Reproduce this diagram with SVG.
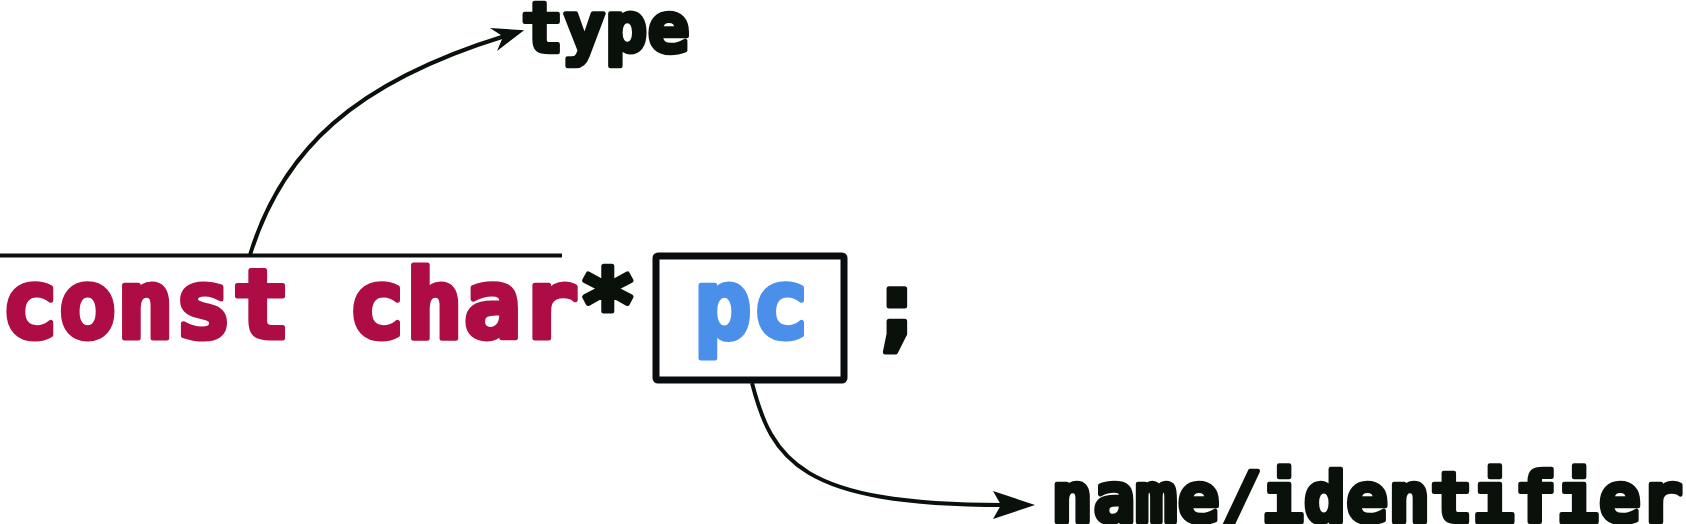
<svg xmlns="http://www.w3.org/2000/svg" width="1686" height="524" viewBox="0 0 1686 524">
<style>
.code{font-family:"DejaVu Sans Mono","Liberation Mono",monospace;font-weight:bold;font-size:96px;stroke-width:5;stroke-linejoin:round}
.lbl{font-family:"DejaVu Sans Mono","Liberation Mono",monospace;font-weight:bold;font-size:70px;fill:#0a110a;stroke:#0a110a;stroke-width:4.5;stroke-linejoin:round}
.kw{fill:#ad0c45;stroke:#ad0c45}
.id{fill:#4a8fea;stroke:#4a8fea}
.pn{fill:#0a110a;stroke:#0a110a}
.wire{fill:none;stroke:#0a110a;stroke-width:4}
</style>
<defs>
<marker id="ahS" markerUnits="userSpaceOnUse" orient="auto" markerWidth="40" markerHeight="30" viewBox="-34 -15 40 30" refX="-20" refY="0" overflow="visible">
<path d="M0,0 L-32,-12 L-22,0 L-32,12 Z" fill="#0a110a"/>
</marker>
<marker id="ahL" markerUnits="userSpaceOnUse" orient="auto" markerWidth="50" markerHeight="36" viewBox="-44 -18 50 36" refX="-32" refY="0" overflow="visible">
<path d="M0,0 L-42,-14 L-34,0 L-42,14 Z" fill="#0a110a"/>
</marker>
</defs>
<g id="connectors">
<line x1="0" y1="255.5" x2="562" y2="255.5" stroke="#0a110a" stroke-width="4"/>
<path class="wire" d="M250,255 C282,150 355,82 505,36" marker-end="url(#ahS)"/>
<path class="wire" d="M752,383 C772,460 800,505 1003,505" marker-end="url(#ahL)"/>
</g>
<g id="code">
<text class="code kw" x="1" y="338">const char</text>
<text class="code pn" x="579" y="338">*</text>
<text class="code pn" x="868" y="338">;</text>
</g>
<g id="node-pc">
<rect x="656" y="256" width="188" height="124" rx="2" fill="none" stroke="#0a0d10" stroke-width="7"/>
<text class="code id" x="694" y="338">pc</text>
</g>
<g id="node-type">
<text class="lbl" x="521" y="52">type</text>
</g>
<g id="node-name">
<text class="lbl" x="1051" y="522">name/identifier</text>
</g>
</svg>
